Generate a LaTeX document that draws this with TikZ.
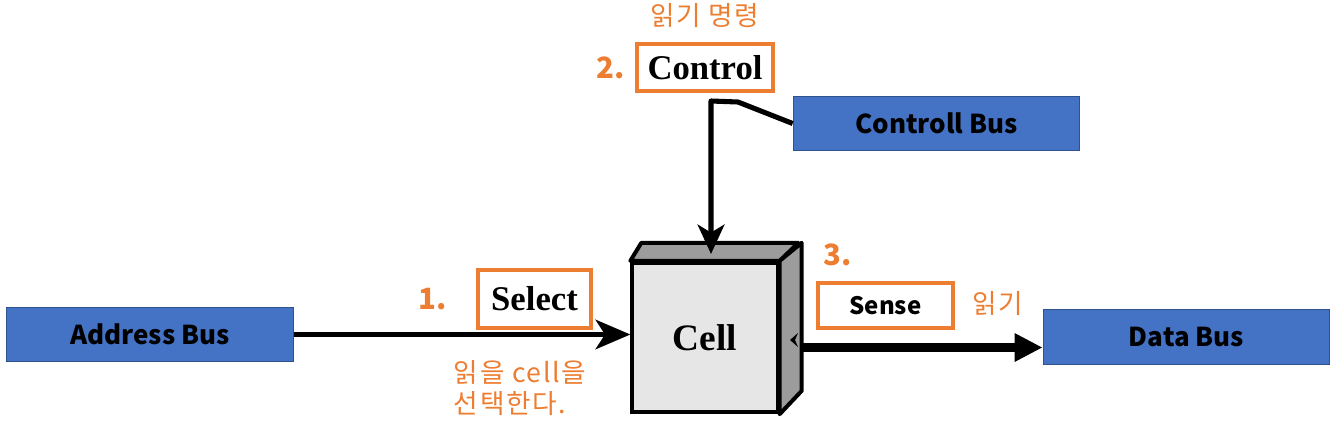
\documentclass[tikz,border=0pt]{standalone}
\usepackage{fontspec}
\setmainfont{Liberation Serif}
\newfontfamily\krfont{Noto Sans CJK KR}
\newfontfamily\krspaced[LetterSpace=6]{Noto Sans CJK KR}
\usetikzlibrary{arrows.meta}
\definecolor{busblue}{HTML}{4472C4}
\definecolor{busedge}{HTML}{2F528F}
\definecolor{steporange}{HTML}{ED7D31}
\definecolor{cellface}{HTML}{E6E6E6}
\definecolor{cellside}{HTML}{9C9C9C}

\begin{document}
\begin{tikzpicture}[x=0.75pt, y=-0.75pt,
  bus/.style={draw=busedge, fill=busblue, line width=0.8pt, inner sep=0pt,
    minimum width=215pt, minimum height=41pt,
    font=\krfont\bfseries\fontsize{19.5}{22}\selectfont},
  stepbox/.style={draw=steporange, line width=2.8pt, fill=white, inner sep=0pt},
  steptag/.style={text=steporange, font=\krfont\bfseries\fontsize{22}{25}\selectfont},
  krnote/.style={text=steporange, font=\krspaced\fontsize{20}{23}\selectfont},
  wire/.style={line width=3.8pt, line join=round}]
  \useasboundingbox (0,0) rectangle (1337,425);

  % ---------- buses ----------
  \node[bus] (addr) at (150,334.5) {Address Bus};
  \node[bus] (ctrlbus) at (936.5,123.5) {Controll Bus};
  \node[bus] (data) at (1186.5,337) {Data Bus};

  % ---------- memory cell as a cube ----------
  \node[draw, line width=3pt, fill=cellface, inner sep=0pt,
        minimum width=109pt, minimum height=112pt,
        font=\bfseries\fontsize{28}{32}\selectfont] (cell) at (705,337.5) {Cell};
  \draw[line width=3pt, line join=round, fill=cellside]
    (cell.north west) -- ++(11,-18) -- ++(157,0) -- (cell.north east) -- cycle;
  \draw[line width=3pt, line join=round, fill=cellside]
    (cell.north east) -- ++(22,-18) -- ++(0,148) -- (cell.south east) -- cycle;
  \fill (790,340) -- (798,333) -- (795,340) -- (798,347) -- cycle;

  % ---------- steps ----------
  \node[stepbox, minimum width=85pt, minimum height=43.5pt,
        font=\bfseries\fontsize{26}{30}\selectfont] (select) at (534.5,299) {Select};
  \node[steptag] (tag1) at (433,299) {1.};
  \node[stepbox, minimum width=102pt, minimum height=35pt,
        font=\bfseries\fontsize{26}{30}\selectfont] (control) at (705,67.5) {Control};
  \node[steptag] (tag2) at (611,68) {2.};
  \node[krnote] (readcmd) at (705,16) {읽기 명령};
  \node[stepbox, minimum width=101pt, minimum height=34pt,
        font=\krfont\bfseries\fontsize{18}{21}\selectfont] (sense) at (885.5,305.5) {Sense};
  \node[steptag] (tag3) at (838,255) {3.};
  \node[krnote] (readnote) at (998,304) {읽기};
  \node[krnote, align=left, inner sep=0pt] (selnote) at (520,388)
    {읽을 cell을\\[0pt]선택한다.};

  % ---------- connectors ----------
  \coordinate (bend1) at (738,102);
  \coordinate (bend2) at (711,101);
  \coordinate (ctop) at (711,254);
  \coordinate (cellout) at (802,347.5);
  \draw[wire, -{Stealth[length=22pt, width=20pt, inset=6pt]}]
    (ctrlbus.west) -- (bend1) -- (bend2) -- (ctop);
  \draw[wire, -{Stealth[length=26pt, width=22pt, inset=7pt]}]
    (addr.east) -- (addr.east -| cell.west);
  \draw[line width=6.75pt, -{Triangle[length=21pt, width=20pt]}]
    (cellout) -- (cellout -| data.west);
\end{tikzpicture}
\end{document}
